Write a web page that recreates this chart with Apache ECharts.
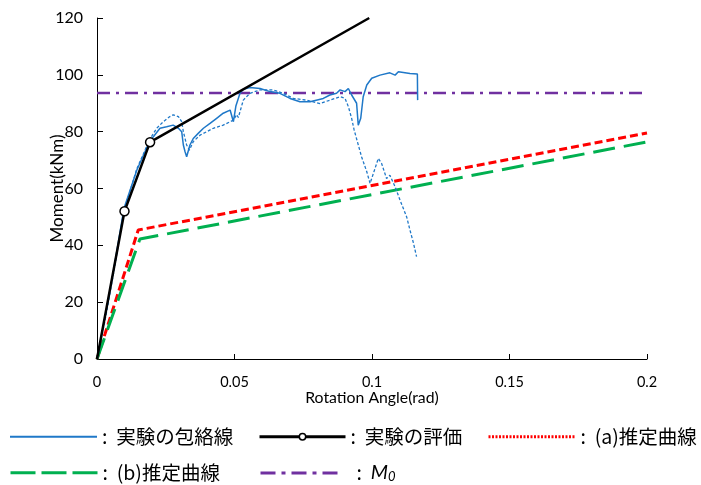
<!DOCTYPE html>
<html>
<head>
<meta charset="utf-8">
<script src="https://cdn.jsdelivr.net/npm/echarts@6/dist/echarts.min.js"></script>
<style>
html,body{margin:0;padding:0;background:#fff;}
#chart{width:701px;height:485px;}
</style>
</head>
<body>
<div id="chart"></div>
<script>
// ---- data (rotation angle [rad], moment [kNm]) ----
const envelopeSolid = [[0,0],[0.003,15],[0.006,31],[0.0098,53],[0.0145,66.5],[0.0193,77],[0.0205,78.2],[0.0229,81.2],[0.0253,81.7],[0.0277,82.3],[0.0296,81.2],[0.0308,80],[0.0314,75.3],[0.032,73],[0.0326,71.2],[0.0338,75.3],[0.035,77.6],[0.0368,79.4],[0.0387,81.2],[0.0411,82.9],[0.0435,84.7],[0.0459,86.5],[0.0484,87.6],[0.0496,83.5],[0.0505,89],[0.052,93.5],[0.0532,94.9],[0.0556,95.5],[0.0593,95.2],[0.0629,94.1],[0.0665,93.5],[0.0702,91.7],[0.0738,90.5],[0.0775,90.5],[0.0823,91.7],[0.0847,92.9],[0.0871,93.5],[0.0884,94.7],[0.0902,94.1],[0.0914,95.2],[0.0926,92.9],[0.0944,90],[0.095,82.3],[0.0959,84.7],[0.0968,92.3],[0.0981,96.4],[0.0999,98.8],[0.1029,99.9],[0.1065,100.7],[0.1084,99.9],[0.1096,101.1],[0.1138,100.5],[0.1165,100.3],[0.1166,91.1]];
const envelopeDashed = [[0,0],[0.003,14],[0.006,30],[0.0098,52],[0.0145,67],[0.0193,77.5],[0.0217,81.2],[0.0241,83.5],[0.0265,85.3],[0.0277,85.9],[0.0296,85.3],[0.0308,83.5],[0.0314,80],[0.0326,75.3],[0.0336,73.5],[0.035,76.5],[0.0375,78.8],[0.0399,80],[0.0423,81.2],[0.0459,82.3],[0.0484,83.5],[0.0496,84.1],[0.0508,86],[0.0514,85],[0.0532,91.1],[0.0556,93.5],[0.0593,94.7],[0.0641,94.7],[0.0677,93.5],[0.0714,91.7],[0.0762,91.1],[0.0811,89.9],[0.0847,91.1],[0.0884,92.3],[0.0902,91.7],[0.0914,88.8],[0.0926,84.7],[0.0935,80.6],[0.0962,71.2],[0.0981,65.9],[0.0993,61.8],[0.1005,65.3],[0.1023,70.6],[0.1035,68.8],[0.1053,63.5],[0.1065,64.7],[0.1084,60.6],[0.1102,55.9],[0.1126,50],[0.1138,45.4],[0.1151,40.7],[0.1162,36]];
const evalX = [0, 0.01, 0.0193, 0.099];
const evalY = [0, 52, 76.3, 120];
const evalMarked = [false, true, true, false];
const estA = [[0,0],[0.015,45.4],[0.2,79.5]];
const estB = [[0,0],[0.0156,42.2],[0.2,76.4]];
const m0Value = 93.6;
const m0Range = [0, 0.2];
const xTicks = {min: 0, max: 0.2, interval: 0.05};
const yTicks = {min: 0, max: 120, interval: 20};
const names = ['実験の包絡線', '実験の評価', '(a)推定曲線', '(b)推定曲線', 'M0'];

const chart = echarts.init(document.getElementById('chart'), null, {renderer: 'canvas'});
const axisFont = 'Lato, "Open Sans", sans-serif';
const jpFont = '"Noto Sans CJK JP", "Noto Sans", sans-serif';
const legendFontSize = 19.5;

function legendFor(name, left, top, extra) {
  return Object.assign({
    data: [name], left: left, top: top, padding: 0, itemWidth: 87, itemHeight: 14, itemGap: 5,
    itemStyle: {opacity: 0},
    textStyle: {fontFamily: jpFont, fontSize: legendFontSize, color: '#000'},
    formatter: n => ':  ' + n, selectedMode: false
  }, extra || {});
}

const option = {
  backgroundColor: '#fff',
  animation: false,
  grid: {left: 97, right: 54, top: 18, bottom: 126, containLabel: false},
  legend: [
    legendFor(names[0], 9, 427),
    legendFor(names[1], 258, 427, {itemWidth: 86, itemStyle: {opacity: 1, borderWidth: 1.5}, itemHeight: 8, lineStyle: {width: 3}}),
    legendFor(names[2], 487, 427, {lineStyle: {type: [2, 1.5], width: 3}}),
    legendFor(names[3], 9, 463, {lineStyle: {type: [25, 6], width: 3}}),
    legendFor(names[4], 259, 463, {itemWidth: 78, lineStyle: {type: [15, 6, 4, 6], width: 3},
      formatter: () => '   :  {m|M}{s|0}',
      textStyle: {fontFamily: jpFont, fontSize: legendFontSize, color: '#000',
        rich: {m: {fontFamily: axisFont, fontStyle: 'italic', fontSize: 20, color: '#000'},
               s: {fontFamily: axisFont, fontStyle: 'italic', fontSize: 13, color: '#000', verticalAlign: 'bottom', padding: [8,0,0,0]}}}})
  ],
  xAxis: {
    type: 'value', min: xTicks.min, max: xTicks.max, interval: xTicks.interval,
    name: 'Rotation Angle(rad)', nameLocation: 'middle', nameGap: 31, nameMoveOverlap: false,
    nameTextStyle: {fontFamily: axisFont, fontSize: 15.8, color: '#000'},
    axisLine: {lineStyle: {color: '#000', width: 1}},
    axisTick: {inside: true, length: 5, lineStyle: {color: '#000'}},
    axisLabel: {fontFamily: axisFont, fontSize: 14.5, color: '#000', margin: 16},
    splitLine: {show: false}
  },
  yAxis: {
    type: 'value', min: yTicks.min, max: yTicks.max, interval: yTicks.interval,
    name: 'Moment(kNm)', nameLocation: 'middle', nameGap: 31, nameMoveOverlap: false,
    nameTextStyle: {fontFamily: axisFont, fontSize: 17, color: '#000'},
    axisLine: {show: true, lineStyle: {color: '#000', width: 1}},
    axisTick: {show: true, inside: true, length: 6, lineStyle: {color: '#000'}},
    axisLabel: {fontFamily: axisFont, fontSize: 16, color: '#000', margin: 14},
    splitLine: {show: false}
  },
  series: [
    {name: names[2], type: 'line', data: estA, symbol: 'none',
     lineStyle: {color: '#FF0000', width: 3, type: [8, 4]}, itemStyle: {color: '#FF0000'}, z: 2},
    {name: names[3], type: 'line', data: estB, symbol: 'none',
     lineStyle: {color: '#00B050', width: 3, type: [22, 9]}, itemStyle: {color: '#00B050'}, z: 2},
    {name: names[4], type: 'line', data: m0Range.map(x => [x, m0Value]), symbol: 'none',
     lineStyle: {color: '#7030A0', width: 2.5, type: [13, 6, 3, 6]}, itemStyle: {color: '#7030A0'}, z: 2},
    {name: 'dashedEnvelope', type: 'line', data: envelopeDashed, symbol: 'none',
     lineStyle: {color: '#1F78C8', width: 1.3, type: [3, 2]}, itemStyle: {color: '#1F78C8'}, z: 3},
    {name: names[0], type: 'line', data: envelopeSolid, symbol: 'none',
     lineStyle: {color: '#1F78C8', width: 1.5}, itemStyle: {color: '#1F78C8'}, z: 3},
    {name: names[1], type: 'line', symbol: 'circle', symbolSize: 9,
     data: evalX.map((x, i) => evalMarked[i] ? [x, evalY[i]] : {value: [x, evalY[i]], symbol: 'none'}),
     lineStyle: {color: '#000', width: 2.5}, itemStyle: {color: '#fff', borderColor: '#000', borderWidth: 1.5}, z: 4}
  ]
};
chart.setOption(option);
</script>
</body>
</html>
